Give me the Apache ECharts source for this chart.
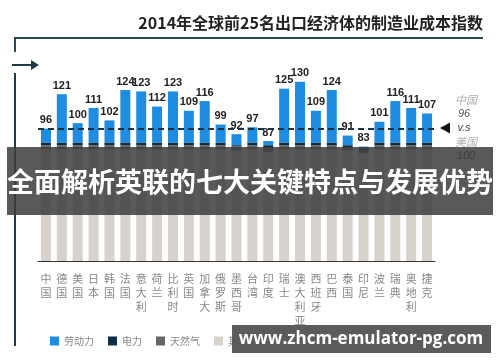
<!DOCTYPE html>
<html>
<head>
<meta charset="utf-8">
<script src="https://cdn.jsdelivr.net/npm/echarts@6/dist/echarts.min.js"></script>
<style>
html,body{margin:0;padding:0;background:#fff;}
#chart{width:500px;height:362px;}
</style>
</head>
<body>
<div id="chart"></div>
<script>
var categories = ['中国','德国','美国','日本','韩国','法国','意大利','荷兰','比利时','英国','加拿大','俄罗斯','墨西哥','台湾','印度','瑞士','澳大利亚','西班牙','巴西','泰国','印尼','波兰','瑞典','奥地利','捷克'];
var totals = [96,121,100,111,102,124,123,112,123,109,116,99,92,97,87,125,130,109,124,91,83,101,116,111,107];
var other  = [81,81,81,81,81,81,81,81,81,81,81,81,80,81,79,81,81,81,81,80,78,81,81,81,81];
var gas    = [3,3,3,3,3,3,3,3,3,3,3,3,3,3,3,3,3,3,3,2,2,3,3,3,3];
var power  = [2,2,2,2,2,2,2,2,2,2,2,2,1,2,2,2,2,2,2,2,2,2,2,2,2];
var labor  = [10,35,14,25,16,38,37,26,37,23,30,13,8,11,3,39,44,23,38,7,1,15,30,25,21];
var seriesNames = ['劳动力','电力','天然气','其他'];
var chinaIndex = 96;
var usIndex = 100;

var chart = echarts.init(document.getElementById('chart'), null, {renderer:'canvas'});
var cjk = '"Noto Sans CJK SC", sans-serif';
var option = {
  animation: false,
  backgroundColor: '#ffffff',
  grid: {left: 38, right: 65, top: 68, bottom: 101, containLabel: false},
  legend: {
    data: seriesNames,
    left: 45, top: 331,
    itemWidth: 9, itemHeight: 9, itemGap: 14,
    icon: 'rect',
    textStyle: {fontSize: 10, color: '#888', fontFamily: cjk}
  },
  xAxis: {
    type: 'category',
    data: categories,
    axisLine: {show: true, lineStyle: {color: '#333', width: 1}},
    axisTick: {show: false},
    axisLabel: {
      interval: 0, margin: 11,
      color: '#888', fontSize: 11, lineHeight: 14, fontFamily: cjk,
      formatter: function(v){ return v.split('').join('\n'); }
    }
  },
  yAxis: {type: 'value', min: 0, max: 140, show: false, splitLine: {show: false}},
  series: [
    {name: '其他', type: 'bar', stack: 'a', data: other, barWidth: 10, itemStyle: {color: '#d7d2cb'}},
    {name: '天然气', type: 'bar', stack: 'a', data: gas, barWidth: 10, itemStyle: {color: '#666666'}},
    {name: '电力', type: 'bar', stack: 'a', data: power, barWidth: 10, itemStyle: {color: '#0e2e44'}},
    {name: '劳动力', type: 'bar', stack: 'a', data: labor, barWidth: 10, itemStyle: {color: '#1e8ce0'},
      label: {show: true, position: 'top', distance: 3, color: '#222', fontSize: 11, fontWeight: 'bold',
        fontFamily: '"Liberation Sans", Arial, sans-serif',
        formatter: function(p){ return totals[p.dataIndex]; }},
      markLine: {silent: true, symbol: ['none','none'], label: {show: false},
        lineStyle: {color: '#1a3340', width: 2, type: [6,4]},
        data: [{yAxis: chinaIndex}]}
    }
  ],
  graphic: [
    {type: 'text', left: null, style: {text: '2014年全球前25名出口经济体的制造业成本指数', x: 483, y: 23, textAlign: 'right', textVerticalAlign: 'middle', fill: '#222', font: 'bold 16px ' + cjk}},
    {type: 'polyline', shape: {points: [[15,52],[15,38],[483,38]]}, style: {stroke: '#2a4853', lineWidth: 2, fill: null}},
    {type: 'line', shape: {x1: 12, y1: 65, x2: 36, y2: 65}, style: {stroke: '#1e3a44', lineWidth: 2}},
    {type: 'polygon', shape: {points: [[39,65],[31,60],[31,70]]}, style: {fill: '#1e3a44'}},
    {type: 'line', shape: {x1: 15, y1: 73, x2: 15, y2: 346}, style: {stroke: '#1e3a44', lineWidth: 2}},
    {type: 'polygon', shape: {points: [[440,128],[450,122.5],[450,133.5]]}, style: {fill: '#111'}},
    {type: 'text', style: {text: '中国', x: 466, y: 100, textAlign: 'center', textVerticalAlign: 'middle', fill: '#b0b0b0', font: 'italic 11px ' + cjk}},
    {type: 'text', style: {text: String(chinaIndex), x: 464, y: 114, textAlign: 'center', textVerticalAlign: 'middle', fill: '#555', font: 'italic 11px "Liberation Sans", Arial, sans-serif'}},
    {type: 'text', style: {text: 'v.s', x: 464, y: 128, textAlign: 'center', textVerticalAlign: 'middle', fill: '#444', font: 'italic 11px "Liberation Sans", Arial, sans-serif'}},
    {type: 'text', style: {text: '美国', x: 466, y: 142, textAlign: 'center', textVerticalAlign: 'middle', fill: '#b0b0b0', font: 'italic 11px ' + cjk}},
    {type: 'text', style: {text: String(usIndex), x: 466, y: 156, textAlign: 'center', textVerticalAlign: 'middle', fill: '#333', font: 'italic 11px "Liberation Sans", Arial, sans-serif'}},
    {type: 'rect', z: 100, shape: {x: 7, y: 147, width: 486, height: 68}, style: {fill: 'rgba(62,62,62,0.86)'}},
    {type: 'text', z: 101, style: {text: '全面解析英联的七大关键特点与发展优势', x: 250, y: 182, textAlign: 'center', textVerticalAlign: 'middle', fill: '#ffffff', font: 'bold 27px ' + cjk}},
    {type: 'rect', z: 100, shape: {x: 232, y: 325, width: 259, height: 28}, style: {fill: '#5b5b5b'}},
    {type: 'text', z: 101, style: {text: 'www.zhcm-emulator-pg.com', x: 361, y: 339, textAlign: 'center', textVerticalAlign: 'middle', fill: '#ffffff', font: 'bold 17px "Open Sans", sans-serif'}}
  ]
};
chart.setOption(option);
</script>
</body>
</html>
